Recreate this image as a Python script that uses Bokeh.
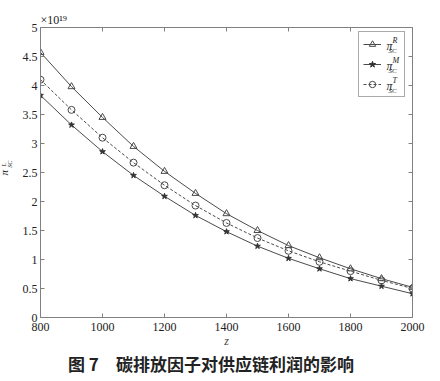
from bokeh.plotting import figure
from bokeh.models import (Range1d, LinearAxis, FixedTicker, Legend, LegendItem,
                          Title, Div)
from bokeh.layouts import column
from bokeh.core.properties import value
from bokeh.embed import file_html
from bokeh.resources import INLINE

# ---- data (values in units of 1e19) ----
z = [800, 900, 1000, 1100, 1200, 1300, 1400, 1500, 1600, 1700, 1800, 1900, 2000]
pi_R = [4.57, 3.98, 3.45, 2.95, 2.52, 2.14, 1.79, 1.50, 1.24, 1.03, 0.84, 0.67, 0.52]
pi_M = [3.83, 3.32, 2.86, 2.45, 2.09, 1.76, 1.48, 1.23, 1.02, 0.84, 0.67, 0.54, 0.41]
pi_T = [4.10, 3.58, 3.10, 2.67, 2.28, 1.93, 1.63, 1.37, 1.15, 0.96, 0.80, 0.64, 0.50]
x_ticks = [800, 1000, 1200, 1400, 1600, 1800, 2000]
y_ticks = [0, 0.5, 1, 1.5, 2, 2.5, 3, 3.5, 4, 4.5, 5]
legend_sups = ["R", "M", "T"]
caption = "图 7　碳排放因子对供应链利润的影响"

SERIF = "Liberation Serif"
AX = "#808080"
LC = "#4a4a4a"
FW, FH = 372, 290
X0, X1, Y0, Y1 = 800, 2000, 0, 5

def fx(px):  # frame pixel (from left) -> data x
    return X0 + px * (X1 - X0) / FW

def fy(py):  # frame pixel (from top) -> data y
    return Y1 - py * (Y1 - Y0) / FH

p = figure(frame_width=FW, frame_height=FH, output_backend="svg",
           toolbar_location=None, x_range=Range1d(X0, X1), y_range=Range1d(Y0, Y1),
           min_border_left=40, min_border_right=20, min_border_top=27,
           min_border_bottom=0)
p.outline_line_color = None
p.xgrid.visible = False
p.ygrid.visible = False
p.background_fill_color = "white"
p.border_fill_color = "white"

for ax in (p.xaxis[0], p.yaxis[0]):
    ax.major_tick_in = 4
    ax.major_tick_out = 0
    ax.minor_tick_line_color = None
    ax.axis_line_color = AX
    ax.major_tick_line_color = AX
    ax.major_label_text_font = SERIF
    ax.major_label_text_font_size = "12px"
    ax.major_label_text_color = "#222222"
p.xaxis[0].ticker = FixedTicker(ticks=x_ticks)
p.yaxis[0].ticker = FixedTicker(ticks=y_ticks)
p.xaxis[0].major_label_standoff = 5
p.yaxis[0].major_label_standoff = 3
p.xaxis[0].axis_label = "z"
p.xaxis[0].axis_label_text_font = SERIF
p.xaxis[0].axis_label_text_font_style = "italic"
p.xaxis[0].axis_label_text_font_size = "12px"
p.xaxis[0].axis_label_standoff = 0

# y-axis label  π_SC^L : subscript as the axis label, π and L as rotated titles
p.yaxis[0].axis_label = "\u00a0" * 11 + "SC"
p.yaxis[0].axis_label_text_font = SERIF
p.yaxis[0].axis_label_text_font_style = "italic"
p.yaxis[0].axis_label_text_font_size = "6px"
p.yaxis[0].axis_label_text_color = "#222222"
p.yaxis[0].axis_label_standoff = 7
p.add_layout(Title(text="π", align="left", offset=142, standoff=-12, text_font=SERIF,
                   text_font_style="italic", text_font_size="11px",
                   text_color="#222222"), "left")
p.add_layout(Title(text="L", align="left", offset=151, standoff=-11, text_font=SERIF,
                   text_font_style="italic", text_font_size="6px",
                   text_color="#222222"), "left")

top = LinearAxis(ticker=FixedTicker(ticks=x_ticks), major_tick_in=4, major_tick_out=0,
                 minor_tick_line_color=None, axis_line_color=AX,
                 major_tick_line_color=AX,
                 major_label_overrides={t: "" for t in x_ticks},
                 major_label_standoff=0)
right = LinearAxis(ticker=FixedTicker(ticks=y_ticks), major_tick_in=4, major_tick_out=0,
                   minor_tick_line_color=None, axis_line_color=AX,
                   major_tick_line_color=AX,
                   major_label_overrides={t: "" for t in y_ticks},
                   major_label_standoff=0)
p.add_layout(top, "above")
p.add_layout(right, "right")

lR = p.line(z, pi_R, line_color=LC, line_width=1)
mR = p.scatter(z, pi_R, marker="triangle", size=7, line_color=LC, fill_color=None)
lM = p.line(z, pi_M, line_color=LC, line_width=1)
mM = p.scatter(z, pi_M, marker="star", size=6, line_color="#333333", fill_color="#333333")
lT = p.line(z, pi_T, line_color=LC, line_width=1, line_dash="3 2")
mT = p.scatter(z, pi_T, marker="circle", size=7, line_color=LC, fill_color=None)

legend = Legend(items=[LegendItem(label=" ", renderers=[lR, mR]),
                       LegendItem(label=" ", renderers=[lM, mM]),
                       LegendItem(label=" ", renderers=[lT, mT])],
                location=(318, 220), padding=4, spacing=4, margin=0,
                glyph_width=18, glyph_height=16, label_height=16, label_width=13,
                label_standoff=6, label_text_font=SERIF,
                label_text_font_size="12px",
                border_line_color="#555555", border_line_width=1,
                background_fill_alpha=0)
p.add_layout(legend, "center")

# legend texts  π_SC^R, π_SC^M, π_SC^T  (positions in frame pixels)
row_y = [18, 38, 58]
p.text([fx(346)] * 3, [fy(r) for r in row_y], text=["π"] * 3,
       text_font=value(SERIF), text_font_style="italic", text_font_size="12px",
       text_align="left", text_baseline="middle", text_color="#222222")
p.text([fx(352)] * 3, [fy(r - 5) for r in row_y], text=legend_sups,
       text_font=value(SERIF), text_font_style="italic", text_font_size="8px",
       text_align="left", text_baseline="middle", text_color="#222222")
p.text([fx(348)] * 3, [fy(r + 5) for r in row_y], text=["SC"] * 3,
       text_font=value(SERIF), text_font_style="italic", text_font_size="7px",
       text_align="left", text_baseline="middle", text_color="#222222")

# multiplier
p.add_layout(Title(text="×10¹⁹", align="left", text_font=SERIF,
                   text_font_style="normal", text_font_size="12px",
                   text_color="#222222", offset=0, standoff=1), "above")

cap = Div(text=caption, width=400, height=24, margin=(4, 0, 0, 68),
          styles={"font-family": "'Noto Sans CJK SC'", "font-weight": "bold",
                  "font-size": "17px", "color": "#222222", "line-height": "20px",
                  "white-space": "nowrap"})

layout = column(p, cap, spacing=0)
open("out.html", "w").write(file_html(layout, INLINE))
